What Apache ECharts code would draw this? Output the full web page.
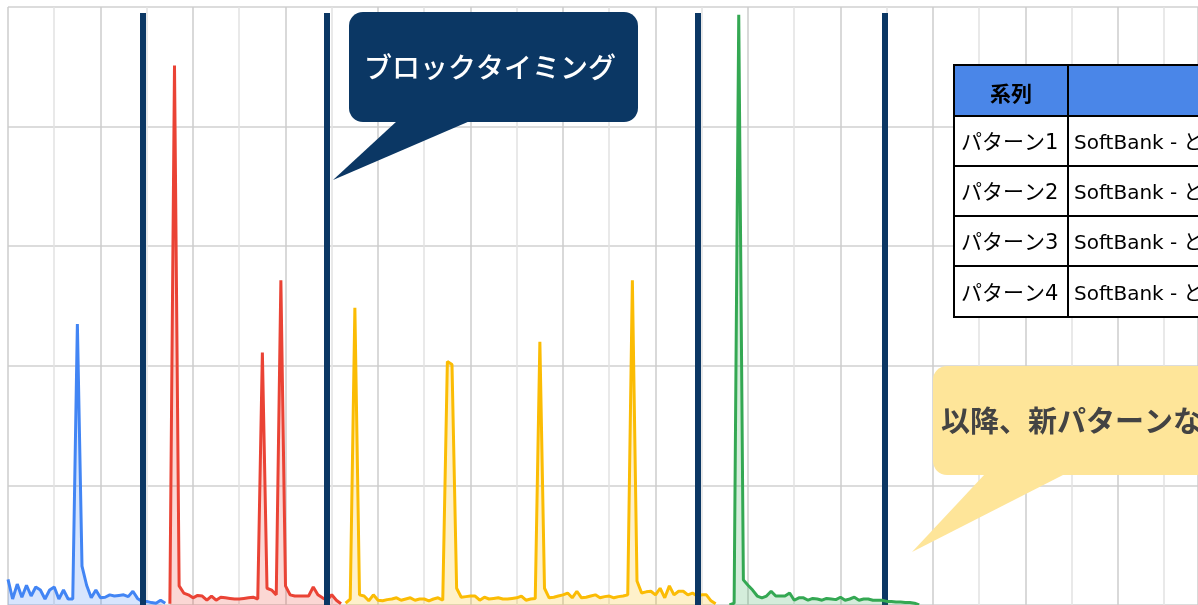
<!DOCTYPE html>
<html>
<head>
<meta charset="utf-8">
<script src="https://cdn.jsdelivr.net/npm/echarts@6/dist/echarts.min.js"></script>
<style>
  html, body { margin: 0; padding: 0; background: #fff; }
  #chart { width: 1198px; height: 605px; }
</style>
</head>
<body>
<div id="chart"></div>
<script>
// 各パターンの値 (開始インデックス + 値)
const pattern1Start = 0
const pattern1Values = [4.3, 1.0, 3.5, 1.3, 3.3, 1.5, 3.0, 2.5, 1.0, 2.5, 3.0, 1.0, 2.5, 1.0, 1.0,
  47.0, 6.5, 3.3, 1.2, 2.5, 1.2, 1.3, 1.7, 1.5, 1.6, 1.7, 1.4, 2.3, 1.1, 0.6, 0.6, 0.4, 0.3, 0.8, 0.3]

const pattern2Start = 35
const pattern2Values = [0.2, 90.2, 3.2, 2.0, 1.7, 1.2, 1.6, 1.5, 0.8, 1.5, 0.8, 1.3, 1.2, 1.1, 1.0,
  1.0, 1.1, 1.2, 1.3, 1.0, 42.2, 2.8, 2.5, 1.7, 54.3, 3.2, 1.7, 1.5, 1.5, 1.5, 1.5, 3.0, 1.7, 1.2,
  0.8, 1.7, 0.8, 0.2]

const pattern3Start = 73
const pattern3Values = [0.3, 1.0, 49.7, 1.7, 1.5, 0.7, 1.7, 0.8, 0.7, 0.9, 1.0, 1.2, 0.8, 1.0, 1.2,
  0.8, 1.0, 1.0, 0.7, 1.0, 1.2, 0.8, 40.7, 40.2, 2.8, 1.3, 1.4, 1.5, 1.5, 0.8, 1.3, 1.0, 1.1, 1.2,
  1.0, 1.0, 1.1, 1.2, 1.5, 0.8, 1.0, 1.1, 44.0, 2.8, 1.2, 1.3, 1.5, 1.7, 2.0, 1.2, 2.3, 1.2, 1.3,
  1.5, 1.7, 1.2, 1.4, 1.5, 1.2, 1.4, 1.5, 1.7, 54.3, 4.0, 2.0, 2.2, 2.3, 1.7, 2.8, 1.2, 3.2, 1.7,
  2.3, 2.3, 1.7, 2.0, 1.5, 1.7, 1.7, 0.7, 0.2]

const pattern4Start = 156
const pattern4Values = [0, 0.3, 98.7, 4.2, 3.3, 2.5, 1.5, 1.2, 1.5, 2.3, 1.5, 1.5, 1.5, 2.0, 0.8,
  1.2, 1.2, 0.8, 1.1, 1.0, 0.8, 1.1, 1.0, 0.9, 1.3, 0.8, 1.0, 1.3, 0.8, 1.0, 1.0, 0.8, 0.8, 0.8,
  0.6, 0.6, 0.5, 0.5, 0.4, 0.4, 0.3, 0]

const seriesNames = ['パターン1', 'パターン2', 'パターン3', 'パターン4']
const seriesColors = ['#4285f4', '#ea4335', '#fbbc04', '#34a853']
const seriesAreas = ['rgba(66,133,244,0.3)', 'rgba(234,67,53,0.3)', 'rgba(251,188,4,0.3)', 'rgba(52,168,83,0.3)']

// ブロックタイミング (x 位置)
const blockTimings = [29.2, 69.0, 149.2, 189.6]

// 表
const tableHeader = ['系列', '']
const tableRows = [
  ['パターン1', 'SoftBank - ど'],
  ['パターン2', 'SoftBank - ど'],
  ['パターン3', 'SoftBank - ど'],
  ['パターン4', 'SoftBank - ど']
]

const calloutBlock = 'ブロックタイミング'
const calloutAfter = '以降、新パターンなし'

const FONT = '"Noto Sans CJK JP", "Noto Sans", sans-serif'
const TABLE_FONT = '"DejaVu Sans", "Noto Sans CJK JP", sans-serif'

function toPoints(start, values) {
  return values.map((v, i) => [start + i, v])
}

const patterns = [
  toPoints(pattern1Start, pattern1Values),
  toPoints(pattern2Start, pattern2Values),
  toPoints(pattern3Start, pattern3Values),
  toPoints(pattern4Start, pattern4Values)
]

const series = patterns.map((data, k) => ({
  name: seriesNames[k],
  type: 'line',
  data: data,
  symbol: 'none',
  smooth: false,
  lineStyle: { color: seriesColors[k], width: 3 },
  itemStyle: { color: seriesColors[k] },
  areaStyle: { color: seriesAreas[k] },
  z: 2 + k
}))

series.push({
  type: 'line',
  data: [],
  silent: true,
  z: 10,
  markLine: {
    silent: true,
    symbol: ['none', 'none'],
    label: { show: false },
    lineStyle: { color: '#0b3764', width: 6, type: 'solid', opacity: 1 },
    data: blockTimings.map(x => [{ coord: [x, 99] }, { coord: [x, 0] }])
  }
})

// 表の図形
const colX = [954, 1068, 1400]
const rowY = [65, 116, 166, 216, 266, 317]
const tableEls = []
tableEls.push({ type: 'rect', z: 100, shape: { x: colX[0], y: rowY[0], width: colX[2] - colX[0], height: rowY[1] - rowY[0] }, style: { fill: '#4a86e8' } })
tableEls.push({ type: 'rect', z: 100, shape: { x: colX[0], y: rowY[1], width: colX[2] - colX[0], height: rowY[5] - rowY[1] }, style: { fill: '#fff' } })
rowY.forEach(y => {
  tableEls.push({ type: 'line', z: 102, shape: { x1: colX[0] - 1, y1: y, x2: colX[2], y2: y }, style: { stroke: '#000', lineWidth: 2 } })
})
colX.slice(0, 2).forEach(x => {
  tableEls.push({ type: 'line', z: 102, shape: { x1: x, y1: rowY[0], x2: x, y2: rowY[5] }, style: { stroke: '#000', lineWidth: 2 } })
})
tableEls.push({
  type: 'text', z: 103,
  style: { text: tableHeader[0], x: (colX[0] + colX[1]) / 2, y: (rowY[0] + rowY[1]) / 2 + 3, fill: '#000', font: 'bold 21px ' + FONT, textAlign: 'center', textVerticalAlign: 'middle' }
})
tableRows.forEach((row, r) => {
  const cy = (rowY[r + 1] + rowY[r + 2]) / 2 + 3
  tableEls.push({ type: 'text', z: 103, style: { text: row[0], x: colX[0] + 7, y: cy, fill: '#000', font: '21px ' + TABLE_FONT, textAlign: 'left', textVerticalAlign: 'middle' } })
  tableEls.push({ type: 'text', z: 103, style: { text: row[1], x: colX[1] + 6, y: cy, fill: '#000', font: '20px ' + TABLE_FONT, textAlign: 'left', textVerticalAlign: 'middle' } })
})

const chart = echarts.init(document.getElementById('chart'))
chart.setOption({
  animation: false,
  backgroundColor: '#fff',
  grid: { left: 8, top: 7, right: 0, height: 600 },
  xAxis: {
    type: 'value',
    min: 0,
    max: 257.3,
    interval: 20,
    axisLine: { show: false },
    axisTick: { show: false },
    axisLabel: { show: false },
    splitLine: { show: true, lineStyle: { color: '#cccccc', width: 1.5 } },
    minorTick: { show: false, splitNumber: 2 },
    minorSplitLine: { show: true, lineStyle: { color: '#e2e2e2', width: 1.5 } }
  },
  yAxis: {
    type: 'value',
    min: 0,
    max: 100,
    interval: 20,
    axisLine: { show: false },
    axisTick: { show: false },
    axisLabel: { show: false },
    splitLine: { show: true, lineStyle: { color: '#d0d0d0', width: 1.5 } }
  },
  series: series,
  graphic: [
    // ブロックタイミング の吹き出し
    { type: 'polygon', z: 100, shape: { points: [[397, 121], [333, 180], [470, 121]] }, style: { fill: '#0b3764' } },
    { type: 'rect', z: 100, shape: { x: 349, y: 12, width: 289, height: 110, r: 14 }, style: { fill: '#0b3764' } },
    { type: 'text', z: 101, style: { text: calloutBlock, x: 490, y: 67, fill: '#fff', font: '500 28px ' + FONT, textAlign: 'center', textVerticalAlign: 'middle' } },
    // 以降 の吹き出し
    { type: 'polygon', z: 100, shape: { points: [[985, 474], [912, 552], [1065, 474]] }, style: { fill: '#fee599' } },
    { type: 'rect', z: 100, shape: { x: 933, y: 366, width: 320, height: 109, r: 14 }, style: { fill: '#fee599' } },
    { type: 'text', z: 101, style: { text: calloutAfter, x: 941, y: 421, fill: '#434343', font: 'bold 29px ' + FONT, textAlign: 'left', textVerticalAlign: 'middle' } },
    { type: 'group', z: 100, children: tableEls }
  ]
})
</script>
</body>
</html>
